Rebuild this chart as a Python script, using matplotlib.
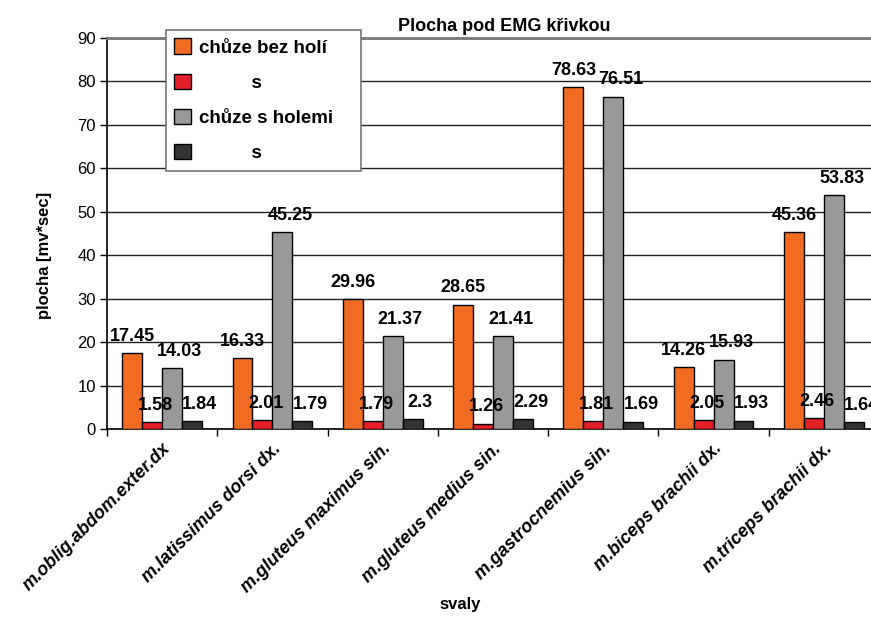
import matplotlib
matplotlib.use("Agg")
import matplotlib.pyplot as plt
import numpy as np
from matplotlib import font_manager

# Data
muscles = [
    "m.oblig.abdom.exter.dx",
    "m.latissimus dorsi dx.",
    "m.gluteus maximus sin.",
    "m.gluteus medius sin.",
    "m.gastrocnemius sin.",
    "m.biceps brachii dx.",
    "m.triceps brachii dx.",
]
bez_holi = [17.45, 16.33, 29.96, 28.65, 78.63, 14.26, 45.36]
bez_holi_s = [1.58, 2.01, 1.79, 1.26, 1.81, 2.05, 2.46]
s_holemi = [14.03, 45.25, 21.37, 21.41, 76.51, 15.93, 53.83]
s_holemi_s = [1.84, 1.79, 2.3, 2.29, 1.69, 1.93, 1.64]
series_labels = ["chůze bez holí", "          s", "chůze s holemi", "          s"]
y_ticks = [0, 10, 20, 30, 40, 50, 60, 70, 80, 90]

colors = ["#F26B22", "#E3202A", "#999999", "#333333"]

available = {f.name for f in font_manager.fontManager.ttflist}
base = "Liberation Sans" if "Liberation Sans" in available else "DejaVu Sans"
plt.rcParams["font.family"] = [base, "DejaVu Sans"]

W, H = 871, 617
fig = plt.figure(figsize=(W / 100, H / 100), dpi=100)
left, right, bottom, top = 107, 879, 429, 38
ax = fig.add_axes([left / W, 1 - bottom / H, (right - left) / W, (bottom - top) / H])

series = [bez_holi, bez_holi_s, s_holemi, s_holemi_s]
x = np.arange(len(muscles))
w = 0.181
label_dx = [0.0, 0.03, 0.07, 0.07]
for i, (vals, col, lab) in enumerate(zip(series, colors, series_labels)):
    pos = x + (i - 1.5) * w
    ax.bar(pos, vals, width=w, color=col, edgecolor="black", linewidth=1.0,
           label=lab, zorder=3)
    for px, v in zip(pos, vals):
        ax.annotate(f"{v:g}", (px + label_dx[i], v), xytext=(0, 6),
                    textcoords="offset points", ha="center", va="bottom",
                    fontsize=13, fontweight="bold", zorder=5)

ax.set_xlim(-0.5, len(muscles) - 0.5)
ax.set_ylim(0, 90)
ax.set_yticks(y_ticks)
ax.set_yticklabels([str(t) for t in y_ticks], fontsize=12)
ax.yaxis.grid(True, color="#222222", linewidth=1.0, zorder=0)
ax.set_axisbelow(True)

# category boundaries as ticks, names centred under groups
ax.set_xticks(np.arange(len(muscles) + 1) - 0.5)
ax.set_xticklabels([])
ax.set_xticks(x, minor=True)
ax.set_xticklabels(muscles, minor=True, rotation=45, ha="right",
                   rotation_mode="anchor", fontsize=13, fontweight="bold",
                   fontstyle="italic")
ax.tick_params(axis="x", which="minor", length=0, pad=8)
ax.tick_params(axis="x", which="major", length=5, width=1, direction="out")
ax.tick_params(axis="y", length=5, width=1, direction="out", pad=3)

ax.spines["right"].set_visible(False)
ax.spines["top"].set_color("#777777")
ax.spines["top"].set_linewidth(2)
ax.spines["left"].set_linewidth(1.2)
ax.spines["bottom"].set_linewidth(1.2)

fig.text(504 / W, 1 - 31 / H, "Plocha pod EMG křivkou", ha="center",
         va="baseline", fontsize=13, fontweight="bold")
fig.text(45 / W, 1 - 255 / H, "plocha [mv*sec]", ha="center", va="center",
         rotation=90, fontsize=12, fontweight="bold")
fig.text(460 / W, 1 - 604 / H, "svaly", ha="center", va="center",
         fontsize=12, fontweight="bold")

leg = ax.legend(loc="upper left",
                bbox_to_anchor=(166 / W, 1 - 170 / H, (361 - 166) / W, 140 / H),
                bbox_transform=fig.transFigure, mode="expand",
                prop={"weight": "bold", "size": 13.5}, frameon=True,
                fancybox=False, framealpha=1, edgecolor="#777777",
                handlelength=0.9, handleheight=0.9, handletextpad=0.4,
                labelspacing=0.9, borderpad=0.45, borderaxespad=0)
leg.get_frame().set_linewidth(1.2)
leg.set_zorder(10)

fig.savefig("out.png", dpi=100)
